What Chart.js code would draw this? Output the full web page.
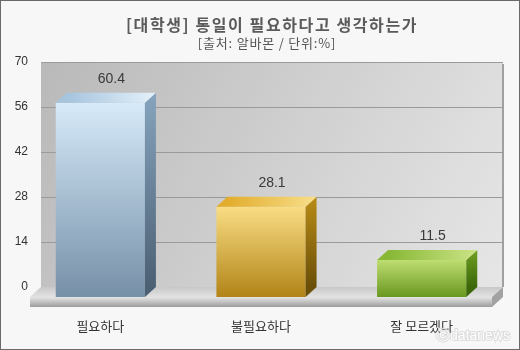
<!DOCTYPE html>
<html>
<head>
<meta charset="utf-8">
<script src="https://cdn.jsdelivr.net/npm/chart.js@4.4.0/dist/chart.umd.min.js"></script>
<style>
  html, body { margin: 0; padding: 0; background: #f7f7f7; }
  canvas { display: block; }
</style>
</head>
<body>
<canvas id="chart" width="520" height="350"></canvas>
<script>
// chart data
const titleText = '[대학생] 통일이 필요하다고 생각하는가';
const subtitleText = '[출처: 알바몬 / 단위:%]';
const categories = ['필요하다', '불필요하다', '잘 모르겠다'];
const values = [60.4, 28.1, 11.5];
const yTicks = [0, 14, 28, 42, 56, 70];
const watermark = 'ⓒdatanews';

// per-bar colours: front top/bottom, side top/bottom, top face left/right
const frontTop = ['#d6eaf9', '#f9dd84', '#bedd72'];
const frontBottom = ['#7690a8', '#b28417', '#69981f'];
const sideTop = ['#86a4be', '#b98c18', '#6f9f22'];
const sideBottom = ['#4c6074', '#6b4f07', '#3c680a'];
const topLeft = ['#a6c4de', '#e2ad2c', '#88b836'];
const topRight = ['#e4f1fa', '#f8df8c', '#cbe486'];

const DX = 11, DY = 10;
const KR = '"Noto Sans CJK KR", "Noto Sans", sans-serif';
const NUM = '"Liberation Sans", Arial, sans-serif';

const box3d = {
    id: 'box3d',
    beforeDraw(chart) {
        const { ctx, width, height } = chart;
        ctx.save();
        ctx.fillStyle = '#f7f7f7';
        ctx.fillRect(0, 0, width, height);
        ctx.textAlign = 'center';
        ctx.textBaseline = 'middle';
        ctx.fillStyle = '#5a5a5a';
        ctx.font = 'bold 16px ' + KR;
        ctx.letterSpacing = '1.6px';
        ctx.fillText(titleText, 272, 25);
        ctx.font = '13px ' + KR;
        ctx.letterSpacing = '0.8px';
        ctx.fillStyle = '#555';
        ctx.fillText(subtitleText, 267, 43);
        ctx.letterSpacing = '0px';
        ctx.restore();
    },
    beforeDatasetsDraw(chart) {
        const { ctx, chartArea: a, scales: { y } } = chart;
        const wl = a.left + 10, wr = a.right - 10;
        const y0 = y.getPixelForValue(0);
        ctx.save();
        // back wall
        const g = ctx.createLinearGradient(wl, a.top, wr, y0);
        g.addColorStop(0, '#b9b9b9');
        g.addColorStop(1, '#e6e6e6');
        ctx.fillStyle = g;
        ctx.fillRect(wl, a.top, wr - wl, y0 - a.top);
        ctx.fillStyle = '#a0a0a0';
        ctx.fillRect(wr - 1, a.top + 2, 2, y0 - a.top - 2);
        // grid lines on the wall
        ctx.strokeStyle = '#9a9a9a';
        ctx.lineWidth = 1;
        yTicks.forEach(v => {
            if (v === 0) return;
            const py = Math.round(y.getPixelForValue(v)) + 0.5;
            ctx.beginPath();
            ctx.moveTo(wl, py);
            ctx.lineTo(wr, py);
            ctx.stroke();
        });
        // floor top
        const gt = ctx.createLinearGradient(0, y0, 0, y0 + DY);
        gt.addColorStop(0, '#c8c8c8');
        gt.addColorStop(1, '#e2e2e2');
        ctx.fillStyle = gt;
        ctx.beginPath();
        ctx.moveTo(wl, y0);
        ctx.lineTo(wr, y0);
        ctx.lineTo(wr - DX, y0 + DY);
        ctx.lineTo(wl - DX, y0 + DY);
        ctx.closePath();
        ctx.fill();
        // floor front
        const gf = ctx.createLinearGradient(0, y0 + DY, 0, y0 + DY + 10);
        gf.addColorStop(0, '#e6e6e6');
        gf.addColorStop(1, '#9c9c9c');
        ctx.fillStyle = gf;
        ctx.fillRect(wl - DX, y0 + DY, wr - wl, 10);
        // floor side
        ctx.fillStyle = '#a2a2a2';
        ctx.beginPath();
        ctx.moveTo(wr - DX, y0 + DY);
        ctx.lineTo(wr, y0);
        ctx.lineTo(wr, y0 + 10);
        ctx.lineTo(wr - DX, y0 + DY + 10);
        ctx.closePath();
        ctx.fill();
        ctx.restore();
        // front faces are drawn shifted toward the viewer
        ctx.save();
        ctx.translate(-DX, DY);
    },
    afterDatasetsDraw(chart) {
        const { ctx } = chart;
        ctx.restore();
        const meta = chart.getDatasetMeta(0);
        ctx.save();
        meta.data.forEach((bar, i) => {
            const w = bar.width;
            const l = bar.x - w / 2, r = bar.x + w / 2;
            const top = bar.y, base = bar.base;
            // side face
            const gs = ctx.createLinearGradient(0, top, 0, base);
            gs.addColorStop(0, sideTop[i]);
            gs.addColorStop(1, sideBottom[i]);
            ctx.fillStyle = gs;
            ctx.beginPath();
            ctx.moveTo(r - DX, top + DY);
            ctx.lineTo(r, top);
            ctx.lineTo(r, base);
            ctx.lineTo(r - DX, base + DY);
            ctx.closePath();
            ctx.fill();
            // top face
            const gt = ctx.createLinearGradient(l, 0, r, 0);
            gt.addColorStop(0, topLeft[i]);
            gt.addColorStop(1, topRight[i]);
            ctx.fillStyle = gt;
            ctx.beginPath();
            ctx.moveTo(l - DX, top + DY);
            ctx.lineTo(l, top);
            ctx.lineTo(r, top);
            ctx.lineTo(r - DX, top + DY);
            ctx.closePath();
            ctx.fill();
            // value label
            ctx.fillStyle = '#3a3a3a';
            ctx.font = '14px ' + NUM;
            ctx.textAlign = 'center';
            ctx.textBaseline = 'middle';
            ctx.fillText(values[i].toFixed(1), bar.x, top - 14);
        });
        ctx.restore();
    },
    afterDraw(chart) {
        const { ctx, width, height } = chart;
        ctx.save();
        ctx.font = '14px ' + NUM;
        ctx.textAlign = 'right';
        ctx.textBaseline = 'middle';
        ctx.lineWidth = 2;
        ctx.strokeStyle = 'rgba(190,190,190,0.45)';
        ctx.strokeText(watermark, 510, 336);
        ctx.fillStyle = 'rgba(255,255,255,0.95)';
        ctx.fillText(watermark, 510, 336);
        ctx.strokeStyle = '#6a6a6a';
        ctx.lineWidth = 1;
        ctx.strokeRect(0.5, 0.5, width - 1, height - 1);
        ctx.restore();
    }
};

function frontColor(context) {
    const chart = context.chart;
    const i = context.dataIndex;
    if (!chart.chartArea) return frontTop[i];
    const y = chart.scales.y;
    const g = chart.ctx.createLinearGradient(0, y.getPixelForValue(values[i]), 0, y.getPixelForValue(0));
    g.addColorStop(0, frontTop[i]);
    g.addColorStop(1, frontBottom[i]);
    return g;
}

new Chart(document.getElementById('chart'), {
    type: 'bar',
    data: {
        labels: categories,
        datasets: [{
            data: values,
            backgroundColor: frontColor,
            borderWidth: 0,
            categoryPercentage: 1,
            barPercentage: 0.555
        }]
    },
    options: {
        responsive: false,
        animation: false,
        devicePixelRatio: 1,
        layout: { padding: { top: 62, right: 7, bottom: 0, left: 0 } },
        plugins: {
            legend: { display: false },
            tooltip: { enabled: false }
        },
        scales: {
            x: {
                grid: { display: false, drawTicks: false },
                border: { display: false },
                ticks: {
                    color: '#333',
                    font: { family: KR, size: 13 },
                    padding: 31,
                    labelOffset: -DX
                },
                afterFit: s => { s.height = 63; }
            },
            y: {
                min: 0,
                max: 70,
                grid: { display: false, drawTicks: false },
                border: { display: false },
                ticks: {
                    color: '#333',
                    font: { family: NUM, size: 12 },
                    padding: 3
                },
                afterBuildTicks: s => { s.ticks = yTicks.map(v => ({ value: v })); },
                afterFit: s => { s.width = 31; }
            }
        }
    },
    plugins: [box3d]
});
</script>
</body>
</html>
